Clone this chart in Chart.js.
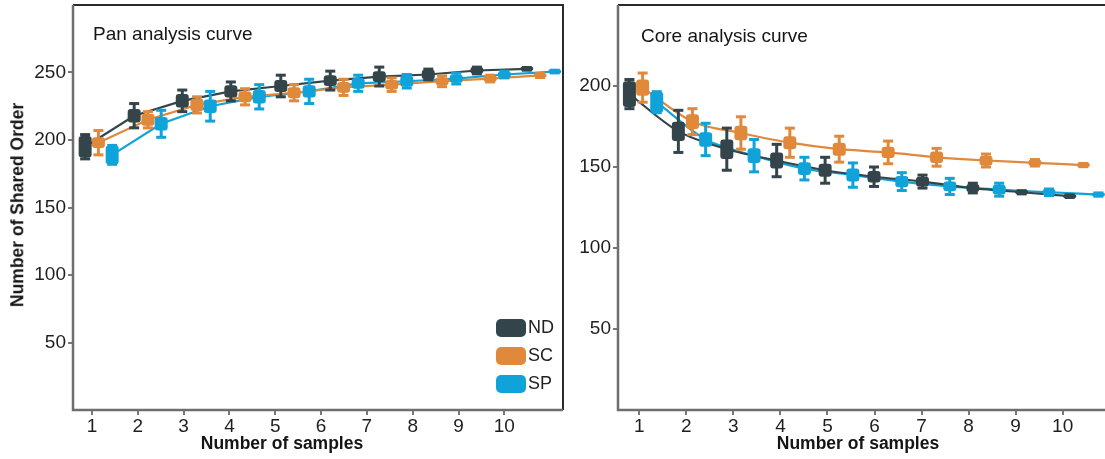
<!DOCTYPE html>
<html>
<head>
<meta charset="utf-8">
<script src="https://cdn.jsdelivr.net/npm/chart.js@4.4.0/dist/chart.umd.min.js"></script>
<style>
  body { margin: 0; background: #fff; font-family: "Liberation Sans", Arial, sans-serif; }
  #wrap { position: relative; width: 1105px; height: 459px; overflow: hidden; }
  #wrap canvas { position: absolute; top: 0; }
  #pan { left: 0; }
  #core { left: 565px; }
  .lbl { position: absolute; color: #151515; white-space: nowrap; line-height: 1; }
  .panel-title { font-size: 19px; }
  .axis-title { font-size: 17.5px; font-weight: bold; transform: translate(-50%, -50%); }
  .y-title { font-size: 17.5px; font-weight: bold; transform: translate(-50%, -50%) rotate(-90deg); }
  .leg { position: absolute; left: 496px; font-size: 18px; color: #222; }
  .leg span { display: inline-block; width: 30px; height: 18px; border-radius: 5px; vertical-align: middle; margin-right: 2px; }
</style>
</head>
<body>
<div id="wrap">
  <canvas id="pan" width="565" height="459"></canvas>
  <canvas id="core" width="540" height="459"></canvas>

  <div class="lbl panel-title" style="left:93px; top:24px;">Pan analysis curve</div>
  <div class="lbl panel-title" style="left:641px; top:26px;">Core analysis curve</div>
  <div class="lbl y-title" style="left:18px; top:205px;">Number of Shared Order</div>
  <div class="lbl axis-title" style="left:282px; top:444px;">Number of samples</div>
  <div class="lbl axis-title" style="left:858px; top:444px;">Number of samples</div>

  <div class="leg" style="top:317px;"><span style="background:#33454b"></span>ND</div>
  <div class="leg" style="top:345px;"><span style="background:#e0893b"></span>SC</div>
  <div class="leg" style="top:373px;"><span style="background:#10a3d9"></span>SP</div>
</div>

<script>
/* ========= Daten ========= */
const groups = ["ND", "SC", "SP"];
const colors = ["#33454b", "#e0893b", "#10a3d9"];
const sampleTicks = [1, 2, 3, 4, 5, 6, 7, 8, 9, 10];
const panYTicks = [50, 100, 150, 200, 250];
const coreYTicks = [50, 100, 150, 200];

// Pan analysis: x position of each box (dodged), mean, box half-height, whisker half-length
const panNdX  = [0.85, 1.92, 2.97, 4.03, 5.12, 6.20, 7.27, 8.34, 9.40, 10.49];
const panNd   = [195, 218, 229, 236, 240, 244, 247, 248.5, 251.5, 252.7];
const panNdBox = [8, 5, 5, 4.5, 4.5, 4, 4, 3.5, 2.5, 1];
const panNdErr = [9, 9, 8, 7, 8, 7, 7, 4, 2.5, 1];

const panScX  = [1.14, 2.22, 3.29, 4.34, 5.41, 6.49, 7.54, 8.64, 9.69, 10.78];
const panSc   = [198, 215, 226, 232, 235, 239, 241, 243.5, 245.5, 247.8];
const panScBox = [4, 4.5, 4.5, 4, 4, 4, 3.5, 3, 2.5, 1.5];
const panScErr = [9, 6, 6, 6, 6, 6, 5, 4, 2.5, 1.5];

const panSpX  = [1.44, 2.51, 3.58, 4.65, 5.74, 6.81, 7.87, 8.95, 10.00, 11.10];
const panSp   = [189, 212, 225, 232, 236, 242, 243.5, 245.5, 248.5, 250.7];
const panSpBox = [7, 5, 5, 5, 4.5, 4, 4, 3, 2.5, 1];
const panSpErr = [7, 10, 11, 9, 9, 6, 5, 4, 2.5, 1];

// Core analysis
const coreNdX  = [0.79, 1.83, 2.86, 3.92, 4.95, 5.99, 7.02, 8.09, 9.13, 10.15];
const coreNd   = [195, 172, 161, 154, 148, 144, 141, 137, 134.4, 132];
const coreNdBox = [8, 6, 6, 5, 4, 3.5, 3, 2.5, 1, 0.8];
const coreNdErr = [9, 13, 13, 10, 8, 6, 4, 3, 1, 0.8];

const coreScX  = [1.07, 2.13, 3.16, 4.20, 5.25, 6.29, 7.32, 8.37, 9.41, 10.44];
const coreSc   = [199, 178, 171, 165, 161, 159, 156, 154, 152.6, 151.2];
const coreScBox = [5, 4.5, 4.5, 4, 4, 3.5, 3.5, 3, 2, 1];
const coreScErr = [9, 8, 10, 9, 8, 7, 5.5, 4, 2, 1];

const coreSpX  = [1.37, 2.41, 3.44, 4.51, 5.54, 6.58, 7.60, 8.65, 9.71, 10.76];
const coreSp   = [190, 167, 157, 149, 145, 141, 138, 136, 134.4, 133];
const coreSpBox = [6.5, 4.5, 4.5, 4, 4, 3.5, 3, 3, 2, 1];
const coreSpErr = [6.5, 10, 10, 7, 7.5, 5.5, 5, 4, 2, 1];

/* ========= Plugins ========= */
// box + whisker for every point, drawn on top of the lines
const boxWhisker = {
  id: "boxWhisker",
  afterDatasetsDraw(chart) {
    const ctx = chart.ctx;
    const xs = chart.scales.x, ys = chart.scales.y;
    chart.data.datasets.forEach(ds => {
      ctx.save();
      ctx.fillStyle = ds.borderColor;
      ctx.strokeStyle = ds.borderColor;
      ds.data.forEach((p, i) => {
        const cx = xs.getPixelForValue(p.x);
        const wTop = ys.getPixelForValue(p.y + ds.err[i]);
        const wBot = ys.getPixelForValue(p.y - ds.err[i]);
        let bTop = ys.getPixelForValue(p.y + ds.box[i]);
        let bBot = ys.getPixelForValue(p.y - ds.box[i]);
        if (bBot - bTop < 4) { const m = (bTop + bBot) / 2; bTop = m - 2; bBot = m + 2; }
        // whisker
        ctx.lineWidth = 3;
        ctx.beginPath();
        ctx.moveTo(cx, wTop); ctx.lineTo(cx, wBot);
        ctx.stroke();
        ctx.fillRect(cx - 5, wTop - 1.5, 10, 3);
        ctx.fillRect(cx - 5, wBot - 1.5, 10, 3);
        // box
        ctx.beginPath();
        ctx.roundRect(cx - 6.5, bTop, 13, bBot - bTop, 3);
        ctx.fill();
      });
      ctx.restore();
    });
  }
};

// panel frame: grey left/bottom, dark top/right
const frame = {
  id: "frame",
  afterDraw(chart, args, opts) {
    const { left, right, top, bottom } = chart.chartArea;
    const ctx = chart.ctx;
    ctx.save();
    ctx.lineWidth = 2;
    ctx.strokeStyle = "#2b2b2b";
    ctx.beginPath();
    ctx.moveTo(left, top); ctx.lineTo(right, top);
    if (opts.right) ctx.lineTo(right, bottom);
    ctx.stroke();
    ctx.lineWidth = 2.5;
    ctx.strokeStyle = "#6e6e6e";
    ctx.beginPath();
    ctx.moveTo(left, top); ctx.lineTo(left, bottom); ctx.lineTo(right, bottom);
    ctx.stroke();
    ctx.restore();
  }
};

/* ========= Chart Helper ========= */
function series(xs, ys, box, err, idx, tension) {
  return {
    label: groups[idx],
    data: xs.map((x, i) => ({ x: x, y: ys[i] })),
    box: box,
    err: err,
    borderColor: colors[idx],
    backgroundColor: colors[idx],
    borderWidth: 2.2,
    pointRadius: 0,
    tension: tension
  };
}

function fixedTicks(values) {
  return scale => { scale.ticks = values.map(v => ({ value: v })); };
}

function renderPanel(id, datasets, cfg) {
  const tickFont = { family: "'Liberation Sans', Arial, sans-serif", size: 19 };
  new Chart(document.getElementById(id), {
    type: "line",
    data: { datasets: datasets },
    plugins: [boxWhisker, frame],
    options: {
      responsive: false,
      animation: false,
      layout: { padding: { top: 5, right: cfg.padRight, left: 0, bottom: 0 } },
      plugins: {
        legend: { display: false },
        tooltip: { enabled: false },
        frame: { right: cfg.frameRight }
      },
      scales: {
        x: {
          type: "linear",
          min: cfg.xMin,
          max: cfg.xMax,
          afterBuildTicks: fixedTicks(sampleTicks),
          afterFit: s => { s.height = 49; s.paddingLeft = 0; s.paddingRight = 0; },
          border: { display: false },
          grid: { drawOnChartArea: false, tickLength: 5, color: "#777", lineWidth: 2 },
          ticks: { color: "#1e1e1e", font: tickFont, padding: 0, maxRotation: 0 }
        },
        y: {
          min: 0,
          max: cfg.yMax,
          afterBuildTicks: fixedTicks(cfg.yTicks),
          afterFit: s => { s.width = cfg.yWidth; s.paddingTop = 0; s.paddingBottom = 0; },
          border: { display: false },
          grid: { drawOnChartArea: false, tickLength: 5, color: "#777", lineWidth: 2 },
          ticks: { color: "#1e1e1e", font: tickFont, padding: 2 }
        }
      }
    }
  });
}

/* ========= Start ========= */
renderPanel("pan", [
  series(panScX, panSc, panScBox, panScErr, 1, 0),
  series(panSpX, panSp, panSpBox, panSpErr, 2, 0),
  series(panNdX, panNd, panNdBox, panNdErr, 0, 0)
], { xMin: 0.585, xMax: 11.28, yMax: 300, yTicks: panYTicks, yWidth: 73, padRight: 2, frameRight: true });

renderPanel("core", [
  series(coreScX, coreSc, coreScBox, coreScErr, 1, 0.3),
  series(coreNdX, coreNd, coreNdBox, coreNdErr, 0, 0.3),
  series(coreSpX, coreSp, coreSpBox, coreSpErr, 2, 0.3)
], { xMin: 0.547, xMax: 10.9, yMax: 250, yTicks: coreYTicks, yWidth: 53, padRight: 0, frameRight: false });
</script>
</body>
</html>
